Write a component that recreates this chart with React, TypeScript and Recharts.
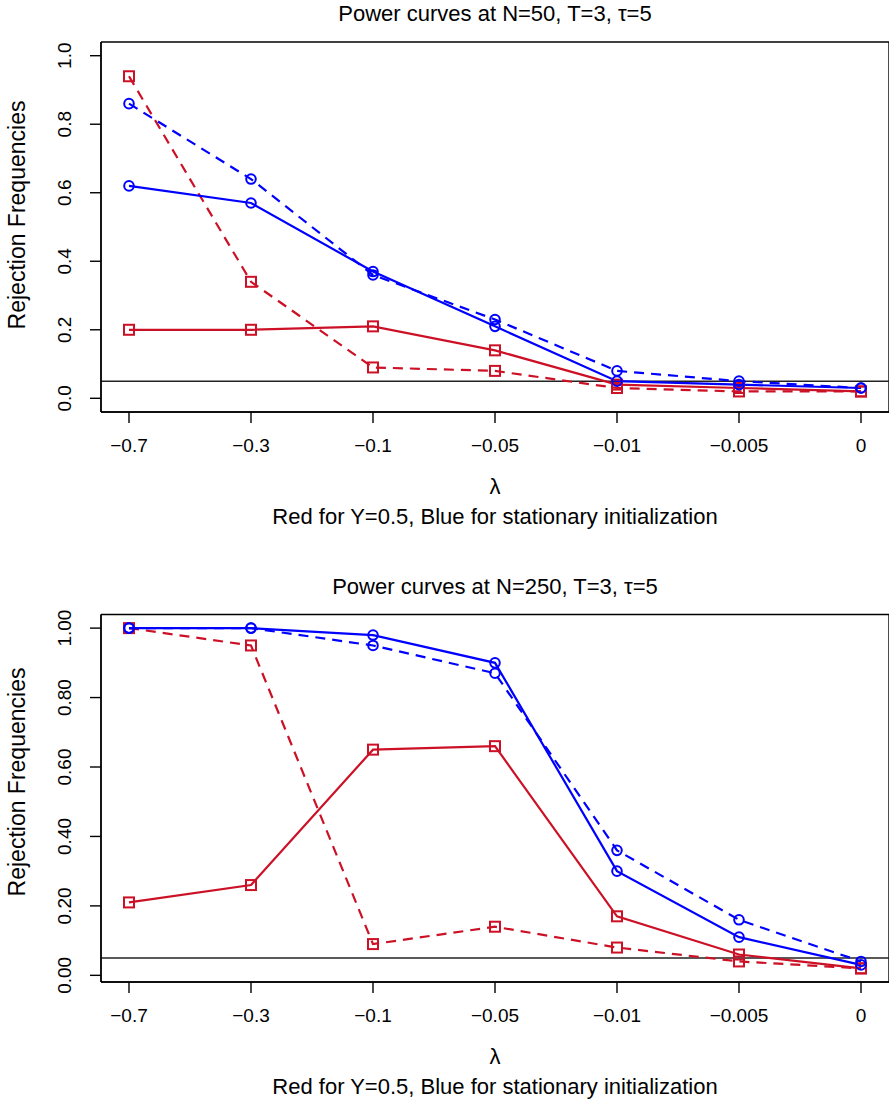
import React from 'react';
import { LineChart, Line, XAxis, YAxis, CartesianGrid, ReferenceLine } from 'recharts';

// ---- data ----
const lambdaLabels = ['−0.7', '−0.3', '−0.1', '−0.05', '−0.01', '−0.005', '0'];

const n50RedSolid = [0.2, 0.2, 0.21, 0.14, 0.04, 0.03, 0.02];
const n50RedDashed = [0.94, 0.34, 0.09, 0.08, 0.03, 0.02, 0.02];
const n50BlueSolid = [0.62, 0.57, 0.37, 0.21, 0.05, 0.04, 0.03];
const n50BlueDashed = [0.86, 0.64, 0.36, 0.23, 0.08, 0.05, 0.03];

const n250RedSolid = [0.21, 0.26, 0.65, 0.66, 0.17, 0.06, 0.02];
const n250RedDashed = [1.0, 0.95, 0.09, 0.14, 0.08, 0.04, 0.02];
const n250BlueSolid = [1.0, 1.0, 0.98, 0.9, 0.3, 0.11, 0.03];
const n250BlueDashed = [1.0, 1.0, 0.95, 0.87, 0.36, 0.16, 0.04];

const yTicks = [0, 0.2, 0.4, 0.6, 0.8, 1.0];
const refLevel = 0.05;

const titleTop = 'Power curves at N=50, T=3, τ=5';
const titleBottom = 'Power curves at N=250, T=3, τ=5';
const xLabel = 'λ';
const subLabel = 'Red for Y=0.5, Blue for stationary initialization';
const yLabel = 'Rejection Frequencies';

const buildData = (rs: number[], rd: number[], bs: number[], bd: number[]) =>
  lambdaLabels.map((l, i) => ({ lambda: l, redSolid: rs[i], redDashed: rd[i], blueSolid: bs[i], blueDashed: bd[i] }));

const dataTop = buildData(n50RedSolid, n50RedDashed, n50BlueSolid, n50BlueDashed);
const dataBottom = buildData(n250RedSolid, n250RedDashed, n250BlueSolid, n250BlueDashed);

// ---- style ----
const FONT = "'Liberation Sans', Arial, Helvetica, sans-serif";
const RED = '#CC1126';
const BLUE = '#0000FF';
const W = 889;

const SquareDot = (props: any) => {
  const { cx, cy, index } = props;
  if (cx == null || cy == null) return <g key={`sqe-${index}`} />;
  return (
    <rect key={`sq-${index}`} x={cx - 5} y={cy - 5} width={10} height={10} fill="none" stroke={RED} strokeWidth={2} />
  );
};

const CircleDot = (props: any) => {
  const { cx, cy, index } = props;
  if (cx == null || cy == null) return <g key={`cie-${index}`} />;
  return <circle key={`ci-${index}`} cx={cx} cy={cy} r={4.8} fill="none" stroke={BLUE} strokeWidth={2} />;
};

const makeYTick = (decimals: number) => (props: any) => {
  const { x, y, payload } = props;
  return (
    <text
      x={x}
      y={y}
      transform={`rotate(-90 ${x} ${y})`}
      textAnchor="middle"
      fontSize={19}
      fontFamily={FONT}
      fill="#000"
    >
      {Number(payload.value).toFixed(decimals)}
    </text>
  );
};

const XTick = (props: any) => {
  const { x, y, payload } = props;
  return (
    <text x={x} y={y} dy="0.71em" textAnchor="middle" fontSize={19} fontFamily={FONT} fill="#000">
      {payload.value}
    </text>
  );
};

const CenterText = ({ cy, children, size = 22 }: { cy: number; children: React.ReactNode; size?: number }) => (
  <div
    style={{
      position: 'absolute',
      left: 101,
      width: 788,
      top: cy - 15,
      height: 30,
      lineHeight: '30px',
      textAlign: 'center',
      fontSize: size,
      fontFamily: FONT,
      color: '#000',
      whiteSpace: 'nowrap',
    }}
  >
    {children}
  </div>
);

const VerticalText = ({ cx, cy, children }: { cx: number; cy: number; children: React.ReactNode }) => (
  <div
    style={{
      position: 'absolute',
      left: cx - 200,
      top: cy - 15,
      width: 400,
      height: 30,
      lineHeight: '30px',
      textAlign: 'center',
      fontSize: 23,
      fontFamily: FONT,
      color: '#000',
      whiteSpace: 'nowrap',
      transform: 'rotate(-90deg)',
    }}
  >
    {children}
  </div>
);

type PanelProps = {
  top: number;
  height: number;
  marginTop: number;
  marginBottom: number;
  data: any[];
  domain: [number, number];
  decimals: number;
  title: string;
  titleCy: number;
  xLabelCy: number;
  subCy: number;
  yLabelCy: number;
};

const Panel = (p: PanelProps) => (
  <div style={{ position: 'absolute', left: 0, top: p.top, width: W, height: p.height }}>
    <LineChart
      width={W}
      height={p.height}
      data={p.data}
      margin={{ top: p.marginTop, right: 0, left: 0, bottom: p.marginBottom }}
    >
      <CartesianGrid
        stroke="#000"
        strokeWidth={1.4}
        horizontalCoordinatesGenerator={(args: any) => [args.offset.top, args.offset.top + args.offset.height]}
        verticalCoordinatesGenerator={(args: any) => [args.offset.left, args.offset.left + args.offset.width]}
      />
      <XAxis
        dataKey="lambda"
        type="category"
        scale="point"
        padding={{ left: 28, right: 28 }}
        interval={0}
        tickSize={11}
        tickMargin={15.5}
        height={40}
        axisLine={{ stroke: '#000', strokeWidth: 1.4 }}
        tickLine={{ stroke: '#000', strokeWidth: 1.4 }}
        tick={<XTick />}
      />
      <YAxis
        type="number"
        domain={p.domain}
        ticks={yTicks}
        interval={0}
        allowDataOverflow
        width={101}
        tickSize={11}
        tickMargin={19}
        axisLine={{ stroke: '#000', strokeWidth: 1.4 }}
        tickLine={{ stroke: '#000', strokeWidth: 1.4 }}
        tick={makeYTick(p.decimals)}
      />
      <ReferenceLine y={refLevel} stroke="#222" strokeWidth={1.5} />
      <Line
        dataKey="redSolid"
        stroke={RED}
        strokeWidth={2.2}
        dot={SquareDot}
        activeDot={false}
        isAnimationActive={false}
      />
      <Line
        dataKey="redDashed"
        stroke={RED}
        strokeWidth={2.2}
        strokeDasharray="10 7"
        dot={SquareDot}
        activeDot={false}
        isAnimationActive={false}
      />
      <Line
        dataKey="blueSolid"
        stroke={BLUE}
        strokeWidth={2.2}
        dot={CircleDot}
        activeDot={false}
        isAnimationActive={false}
      />
      <Line
        dataKey="blueDashed"
        stroke={BLUE}
        strokeWidth={2.2}
        strokeDasharray="10 7"
        dot={CircleDot}
        activeDot={false}
        isAnimationActive={false}
      />
    </LineChart>
    <CenterText cy={p.titleCy}>{p.title}</CenterText>
    <CenterText cy={p.xLabelCy}>{xLabel}</CenterText>
    <CenterText cy={p.subCy}>{subLabel}</CenterText>
    <VerticalText cx={17} cy={p.yLabelCy}>{yLabel}</VerticalText>
  </div>
);

export default function App() {
  return (
    <div style={{ position: 'absolute', left: 0, top: 0, width: W, height: 1103, background: '#fff', overflow: 'hidden' }}>
      <Panel
        top={0}
        height={560}
        marginTop={42}
        marginBottom={108}
        data={dataTop}
        domain={[-0.04, 1.04]}
        decimals={1}
        title={titleTop}
        titleCy={14}
        xLabelCy={487}
        subCy={517}
        yLabelCy={215}
      />
      <Panel
        top={560}
        height={543}
        marginTop={54.5}
        marginBottom={81}
        data={dataBottom}
        domain={[-0.0192, 1.0392]}
        decimals={2}
        title={titleBottom}
        titleCy={26.5}
        xLabelCy={497}
        subCy={527}
        yLabelCy={222}
      />
    </div>
  );
}
